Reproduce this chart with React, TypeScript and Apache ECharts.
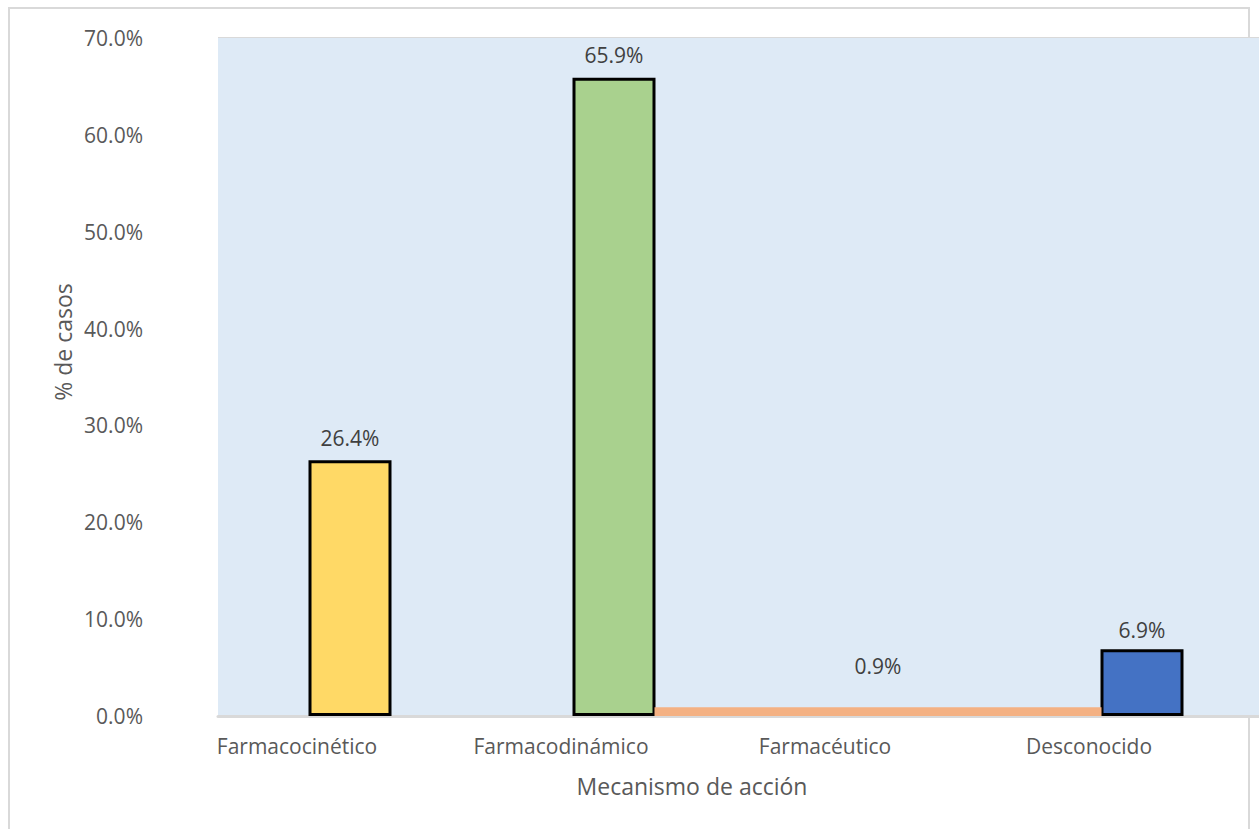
import React, { useEffect, useRef } from "react";
import * as echarts from "echarts";

// Mechanism of action categories and share of cases (%)
const categories = ["Farmacocinético", "Farmacodinámico", "Farmacéutico", "Desconocido"];
const mainValues = [26.4, 65.9, null, 6.9];
const pharmaceuticValues = [null, null, 0.9, null];
const barColors = ["#FFD966", "#A9D18E", "#F4B183", "#4472C4"];
const yTicks = { min: 0, max: 70, interval: 10 };
const yTitle = "% de casos";
const xTitle = "Mecanismo de acción";

const FONT = "'Open Sans', 'Noto Sans', sans-serif";

export default function App() {
  const ref = useRef<HTMLDivElement>(null);

  useEffect(() => {
    if (!ref.current) return;
    const chart = echarts.init(ref.current, undefined, { renderer: "svg" });

    const labelStyle = {
      show: true,
      position: "top" as const,
      distance: 12,
      color: "#404040",
      fontSize: 21,
      fontFamily: FONT,
      formatter: (p: any) => `${Number(p.value).toFixed(1)}%`,
    };

    chart.setOption({
      animation: false,
      backgroundColor: "#ffffff",
      grid: {
        left: 218,
        width: 1056,
        top: 38,
        bottom: 113,
        outerBoundsMode: "none",
        containLabel: false,
        show: true,
        backgroundColor: "#DEEAF6",
        borderWidth: 0,
        z: 1,
      },
      graphic: [
        {
          type: "rect",
          z: -10,
          silent: true,
          shape: { x: 9, y: 8, width: 1240, height: 900 },
          style: { fill: "#ffffff", stroke: "#D9D9D9", lineWidth: 2 },
        },
        {
          type: "text",
          x: 63,
          y: 342,
          rotation: Math.PI / 2,
          style: {
            text: yTitle,
            fill: "#595959",
            font: `23px ${FONT}`,
            align: "center",
            verticalAlign: "middle",
          },
        },
        {
          type: "text",
          x: 692,
          y: 786,
          style: {
            text: xTitle,
            fill: "#595959",
            font: `23px ${FONT}`,
            align: "center",
            verticalAlign: "middle",
          },
        },
      ],
      xAxis: [
        {
          type: "category",
          data: categories,
          axisLine: { show: true, lineStyle: { color: "#D9D9D9", width: 3 } },
          axisTick: { show: false },
          axisLabel: {
            color: "#595959",
            fontSize: 21,
            fontFamily: FONT,
            margin: 19,
            padding: [0, 106, 0, 0],
          },
          z: 3,
        },
        {
          type: "category",
          data: categories,
          show: false,
        },
      ],
      yAxis: {
        type: "value",
        min: yTicks.min,
        max: yTicks.max,
        interval: yTicks.interval,
        axisLine: { show: false },
        axisTick: { show: false },
        axisLabel: {
          color: "#595959",
          fontSize: 21,
          fontFamily: FONT,
          margin: 75,
          formatter: (v: number) => `${v.toFixed(1)}%`,
        },
        splitLine: { lineStyle: { color: "#D9D9D9", width: 2 } },
      },
      series: [
        {
          type: "bar",
          xAxisIndex: 0,
          data: mainValues.map((v, i) => ({
            value: v,
            itemStyle: { color: barColors[i] },
            label: i === 3 ? { distance: 9 } : undefined,
          })),
          barWidth: 83,
          itemStyle: { borderColor: "#000000", borderWidth: 3 },
          label: labelStyle,
          z: 4,
        },
        {
          type: "bar",
          xAxisIndex: 1,
          data: pharmaceuticValues.map((v, i) => ({
            value: v,
            itemStyle: { color: barColors[i] },
          })),
          barWidth: 447,
          itemStyle: { borderWidth: 0 },
          label: { ...labelStyle, distance: 31 },
          z: 4,
        },
      ],
    });

    return () => chart.dispose();
  }, []);

  return (
    <div
      ref={ref}
      style={{ position: "absolute", left: 0, top: 0, width: 1259, height: 829 }}
    />
  );
}
